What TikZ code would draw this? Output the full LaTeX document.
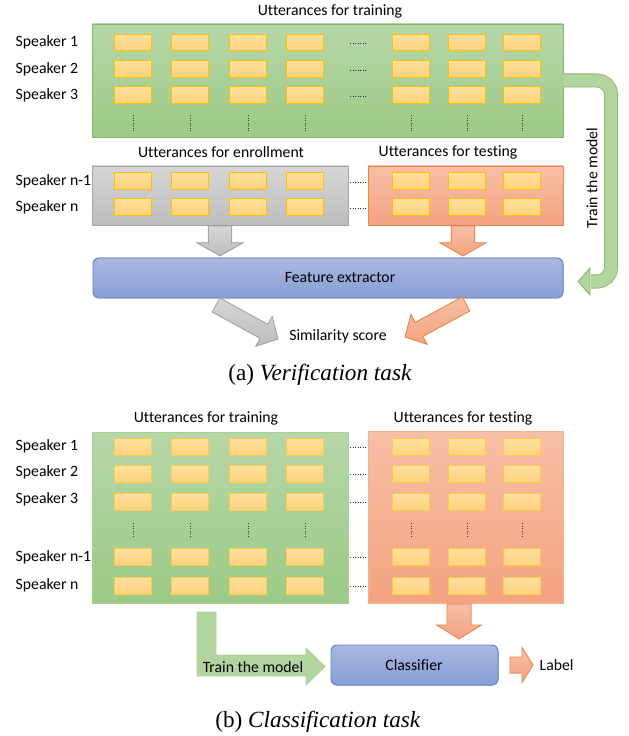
\documentclass[tikz,border=0pt]{standalone}
\usepackage{fontspec}
\setmainfont{Carlito}[Ligatures=NoCommon]
\newfontfamily\capfont{Liberation Serif}
\usetikzlibrary{calc}

\definecolor{trainTop}{HTML}{B6D7A8}
\definecolor{trainBot}{HTML}{9CCA87}
\definecolor{trainLine}{HTML}{84BA62}
\definecolor{trainLineB}{HTML}{A9D092}
\definecolor{uttTop}{HTML}{FFE09E}
\definecolor{uttBot}{HTML}{FFD27D}
\definecolor{uttLine}{HTML}{FFC000}
\definecolor{uttLineB}{HTML}{FFCB45}
\definecolor{enrolTop}{HTML}{D6D6D6}
\definecolor{enrolBot}{HTML}{BDBDBD}
\definecolor{enrolLine}{HTML}{A5A5A5}
\definecolor{testTop}{HTML}{F7BFA6}
\definecolor{testBot}{HTML}{F4A381}
\definecolor{testLine}{HTML}{EE8647}
\definecolor{testLineB}{HTML}{F5B08E}
\definecolor{featTop}{HTML}{AAB8E0}
\definecolor{featBot}{HTML}{889ED6}
\definecolor{featLine}{HTML}{5E82CC}
\definecolor{arrGreen}{HTML}{B2D5A0}

\tikzset{
	uttbox/.style={draw=uttLine, line width=0.9pt, top color=uttTop, bottom color=uttBot},
	uttboxb/.style={uttbox, draw=uttLineB},
	dots/.style={line width=0.7pt, dash pattern=on 0.6pt off 1.2pt, black!80},
	grayarr/.style={draw=enrolLine, line width=0.6pt, top color=enrolTop, bottom color=enrolBot},
	orangearr/.style={draw=testLine, line width=0.6pt, top color=testTop, bottom color=testBot},
	greenarr/.style={draw=trainLine, line width=0.6pt, fill=arrGreen}
}

% block arrow: style, tail, tip, half shaft, half head, head length
\newcommand{\blockarrow}[6]{%
	\coordinate (hb) at ($(#3)!#6!(#2)$);
	\filldraw[#1] ($(#2)!#4!90:(#3)$) -- ($(hb)!#4!90:(#3)$) -- ($(hb)!#5!90:(#3)$)
		-- (#3) -- ($(hb)!#5!-90:(#3)$) -- ($(hb)!#4!-90:(#3)$)
		-- ($(#2)!#4!-90:(#3)$) -- cycle;
}

\begin{document}
\begin{tikzpicture}[x=0.25mm, y=-0.25mm,
	every node/.style={font=\fontsize{11.2}{13}\selectfont, inner sep=1pt}]
	\useasboundingbox (0,0) rectangle (628,736);

	% (a) training utterances
	\node (trainTitleA) at (330,11) {Utterances for training};
	\filldraw[draw=trainLine, line width=0.7pt, top color=trainTop, bottom color=trainBot]
	(92,24) rectangle (563,137);
	\foreach \y/\t [count=\i] in {42.5/Speaker 1, 69/Speaker 2, 95/Speaker 3}
		\node[anchor=west] (spkA\i) at (14,\y) {\t};
	\foreach \y in {42.5,69,95}
		\foreach \x in {133,190,248,305,411,467,522}
			\filldraw[uttbox] (\x-18.5,\y-8.25) rectangle (\x+18.5,\y+8.25);
	\foreach \y in {42.5,69,95}
		\draw[dots] (350,\y+1) -- (366,\y+1);
	\foreach \x in {133,190,248,305,411,467,522}
		\draw[dots] (\x,115) -- (\x,131);

	% (a) enrollment and testing
	\node (enrolTitle) at (221,152) {Utterances for enrollment};
	\node (testTitleA) at (448,152) {Utterances for testing};
	\filldraw[draw=enrolLine, line width=0.7pt, top color=enrolTop, bottom color=enrolBot]
	(92,166) rectangle (348,225);
	\filldraw[draw=testLine, line width=0.7pt, top color=testTop, bottom color=testBot]
	(368,166) rectangle (563,225);
	\foreach \y/\t [count=\i] in {181/Speaker n-1, 207/Speaker n}
		\node[anchor=west] (spkE\i) at (14,\y) {\t};
	\foreach \y in {181,207}
		\foreach \x in {133,190,248,305,411,467,522}
			\filldraw[uttbox] (\x-18.5,\y-8.25) rectangle (\x+18.5,\y+8.25);
	\foreach \y in {181,207}
		\draw[dots] (350,\y+1) -- (366,\y+1);

	% (a) feature extractor
	\filldraw[draw=featLine, line width=0.7pt, top color=featTop, bottom color=featBot,
	rounded corners=1.5mm] (93,258) rectangle (563,298);
	\node (featx) at (340,278) {Feature extractor};
	\node (simscore) at (338,336) {Similarity score};

	\coordinate (grayTail) at (220,226);
	\coordinate (grayTip) at (220,256);
	\coordinate (testTail) at (463,226);
	\coordinate (testTip) at (463,256);
	\blockarrow{grayarr}{grayTail}{grayTip}{2.9mm}{5.75mm}{3.3mm}
	\blockarrow{orangearr}{testTail}{testTip}{2.9mm}{5.75mm}{3.3mm}

	\coordinate (grayOut) at (216,305);
	\coordinate (grayScore) at (278,339);
	\coordinate (testOut) at (466,304);
	\coordinate (testScore) at (405,337);
	\blockarrow{grayarr}{grayOut}{grayScore}{2mm}{4.25mm}{4mm}
	\blockarrow{orangearr}{testOut}{testScore}{2mm}{4.25mm}{4mm}

	% (a) train the model
	\coordinate (trainOut) at (563,80.5);
	\coordinate (trainBend) at (611,281.5);
	\coordinate (trainIn) at (591,281.5);
	\filldraw[greenarr] (590,268) -- (578,281.5) -- (590,295) -- cycle;
	\draw[trainLine, line width=3.5mm, rounded corners=3.5mm]
	(trainOut) -| (trainBend) -- (trainIn);
	\draw[arrGreen, line width=3.5mm-1.2pt, rounded corners=3.5mm]
	(trainOut) -| (trainBend) -- (trainIn);
	\node[rotate=90] (trainLabelA) at (592,178) {Train the model};

	\node (capA) at (320,375)
	{\capfont\fontsize{16.5}{19}\selectfont (a) \textit{Verification task}};

	% (b) training and testing
	\node (trainTitleB) at (206,418) {Utterances for training};
	\node (testTitleB) at (463,418) {Utterances for testing};
	\filldraw[draw=trainLineB, line width=0.7pt, top color=trainTop, bottom color=trainBot]
	(92,432) rectangle (348,603);
	\filldraw[draw=testLineB, line width=0.7pt, top color=testTop, bottom color=testBot]
	(368,431) rectangle (563,603);
	\foreach \y/\t [count=\i] in {446/Speaker 1, 472/Speaker 2, 499/Speaker 3,
		557/Speaker n-1, 585/Speaker n}
		\node[anchor=west] (spkB\i) at (14,\y) {\t};
	\foreach \y in {447,474,502,557,586}
		\foreach \x in {133,190,248,305,411,467,522}
			\filldraw[uttboxb] (\x-18.5,\y-8.25) rectangle (\x+18.5,\y+8.25);
	\foreach \y in {447,474,502,557,586}
		\draw[dots] (350,\y) -- (366,\y);
	\foreach \x in {133,190,248,305,411,467,522}
		\draw[dots] (\x,523) -- (\x,538);

	% (b) classifier
	\filldraw[draw=featLine, line width=0.7pt, top color=featTop, bottom color=featBot,
	rounded corners=1.5mm] (331,645) rectangle (498,685);
	\node (clf) at (414,665) {Classifier};
	\node[anchor=west] (label) at (538,665) {Label};

	\coordinate (testTailB) at (459,604);
	\coordinate (testTipB) at (459,639);
	\blockarrow{orangearr}{testTailB}{testTipB}{3mm}{5.6mm}{3.5mm}
	\coordinate (clfOut) at (510,665);
	\coordinate (labelIn) at (533,665);
	\blockarrow{orangearr}{clfOut}{labelIn}{2mm}{4.4mm}{2.75mm}

	\filldraw[greenarr, draw=trainLineB] (197,612) -- (216,612) -- (216,655) -- (306,655)
	-- (306,648) -- (325,666.5) -- (306,685) -- (306,676) -- (197,676) -- cycle;
	\node (trainLabelB) at (253,667) {Train the model};

	\node (capB) at (318,722)
	{\capfont\fontsize{16.5}{19}\selectfont (b) \textit{Classification task}};
\end{tikzpicture}
\end{document}
